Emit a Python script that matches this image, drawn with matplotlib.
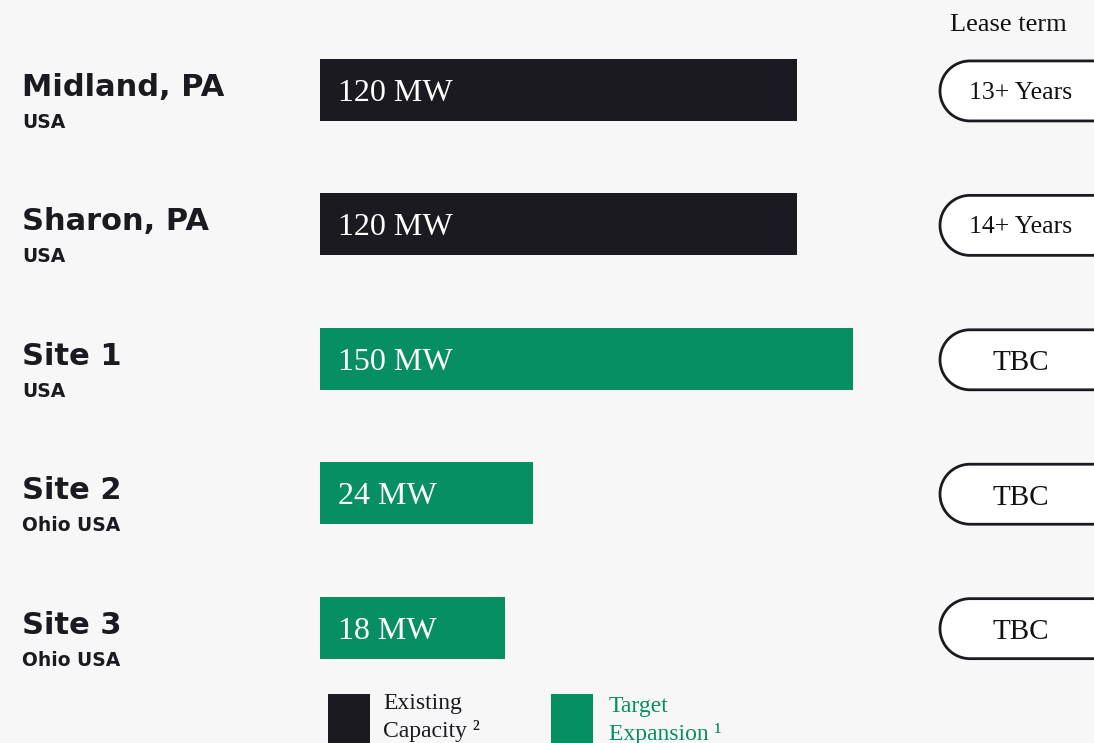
import numpy as np
import matplotlib.pyplot as plt
from matplotlib.patches import Polygon, Rectangle
from matplotlib.transforms import IdentityTransform

# data
sites = ["Midland, PA", "Sharon, PA", "Site 1", "Site 2", "Site 3"]
regions = ["USA", "USA", "USA", "Ohio USA", "Ohio USA"]
capacity_mw = [120, 120, 150, 24, 18]
status = ["existing", "existing", "target", "target", "target"]
lease_terms = ["13+ Years", "14+ Years", "TBC", "TBC", "TBC"]
legend_labels = [("Existing", "Capacity ²"), ("Target", "Expansion ¹")]

BG = "#f7f7f7"
DARK = "#1b1a20"
GREEN = "#078f63"
colors = {"existing": DARK, "target": GREEN}

W, H = 1094, 743
fig = plt.figure(figsize=(W / 100, H / 100), dpi=100, facecolor=BG)
px = IdentityTransform()

# bars: sqrt-like scale so short bars keep room for their labels
ax = fig.add_axes([320 / W, 0, 600 / W, 1])
ax.set_facecolor(BG)
ax.set_xscale("function", functions=(lambda x: np.sqrt(np.clip(x, 0, None)), lambda x: x ** 2))
ax.set_xlim(0, 190)
ypos = np.arange(len(sites))
ax.set_ylim(4.858, -0.669)
ax.barh(ypos, capacity_mw, height=0.461, color=[colors[s] for s in status])
ax.axis("off")

serif = "Liberation Serif"
sans = "DejaVu Sans"


def pill(x0, yc, r=30, length=260):
    # stadium shape with true half-circle ends
    t = np.linspace(np.pi / 2, 3 * np.pi / 2, 60)
    left = np.column_stack([x0 + r + r * np.cos(t), yc + r * np.sin(t)])
    right = np.column_stack([x0 + length - r - r * np.cos(t), yc - r * np.sin(t)])
    return Polygon(np.vstack([left, right]), closed=True, facecolor="white",
                   edgecolor=DARK, linewidth=2, transform=px)


for i, (name, reg, mw, term) in enumerate(zip(sites, regions, capacity_mw, lease_terms)):
    # value inside bar
    ax.annotate(f"{mw} MW", xy=(0, i), xytext=(18, -11), textcoords="offset pixels",
                ha="left", va="baseline", color="white", fontsize=23, family=serif)
    # site name and region on the left
    ax.annotate(name, xy=(22, i), xycoords=("figure pixels", "data"),
                xytext=(0, -6), textcoords="offset pixels",
                ha="left", va="baseline", fontsize=22, fontweight="bold",
                color=DARK, family=sans)
    ax.annotate(reg, xy=(22, i), xycoords=("figure pixels", "data"),
                xytext=(0, -38), textcoords="offset pixels",
                ha="left", va="baseline", fontsize=13.5, fontweight="bold",
                color=DARK, family=sans)
    # lease term pill
    yc = ax.transData.transform((1.0, i))[1] - 1
    fig.add_artist(pill(940, yc))
    if term == "TBC":
        fig.text(1021, yc - 10.5, term, transform=px, ha="center", va="baseline",
                 fontsize=21, family=serif, color="#111111")
    else:
        fig.text(1021, yc - 8, term, transform=px, ha="center", va="baseline",
                 fontsize=18.5, family=serif, color="#111111")

fig.text(950, H - 31, "Lease term", transform=px, ha="left", va="baseline",
         fontsize=19, family=serif, color="#111111")

# legend
for (l1, l2), c, x0, y1 in zip(legend_labels, [DARK, GREEN], [328, 551], [709, 712]):
    fig.add_artist(Rectangle((x0, -10), 42, H - 694 + 10, facecolor=c, edgecolor="none",
                             transform=px))
    tx = x0 + 55 if c == DARK else x0 + 58
    fig.text(tx, H - y1, l1, transform=px, ha="left", va="baseline",
             fontsize=17, family=serif, color=c)
    fig.text(tx, H - y1 - 28, l2, transform=px, ha="left", va="baseline",
             fontsize=17, family=serif, color=c)

fig.savefig("out.png", dpi=100, facecolor=BG)
